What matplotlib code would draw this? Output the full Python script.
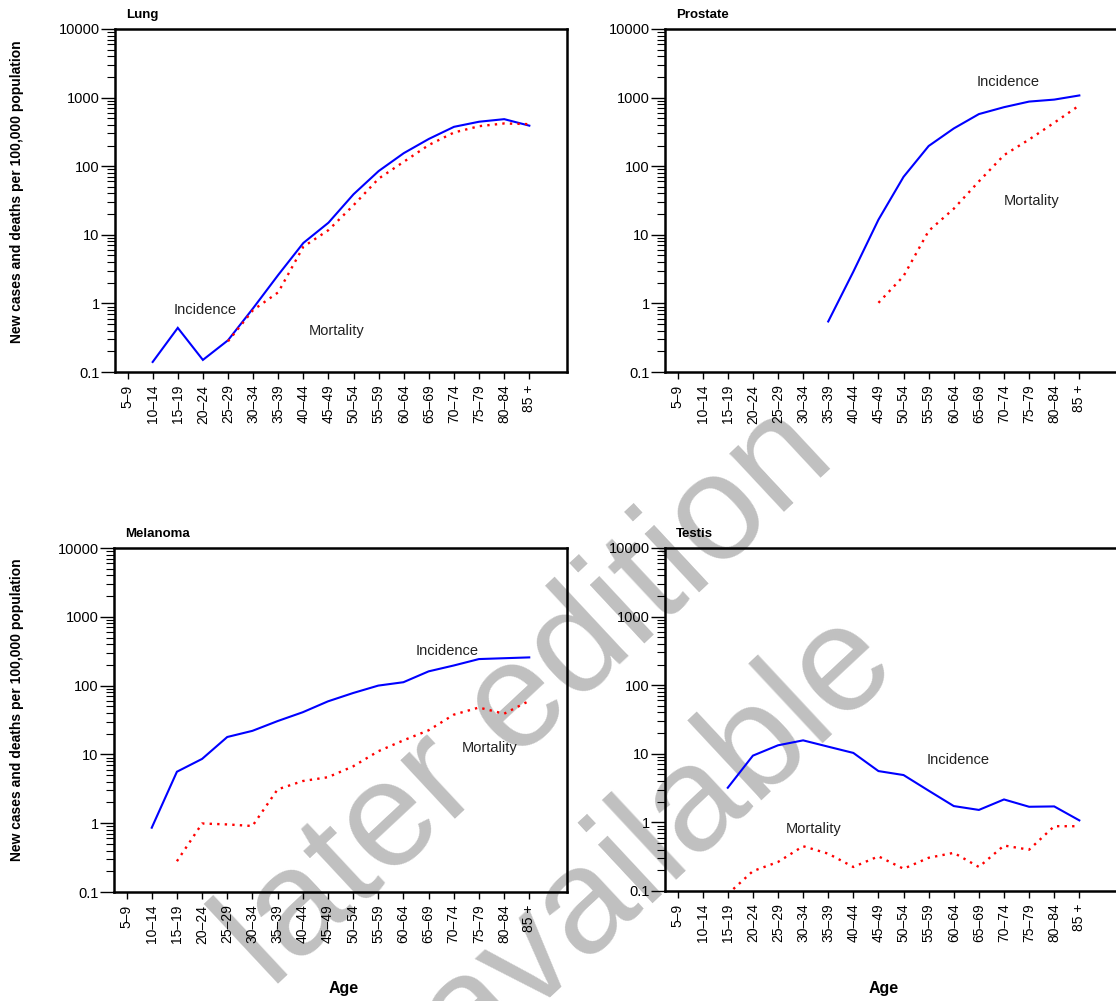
import matplotlib
matplotlib.use("Agg")
import matplotlib.pyplot as plt
from matplotlib.ticker import FixedLocator, FixedFormatter, LogLocator, NullFormatter
import numpy as np

plt.rcParams['font.family'] = ['Liberation Sans', 'DejaVu Sans']

age_groups = ["5–9", "10–14", "15–19", "20–24", "25–29", "30–34", "35–39",
              "40–44", "45–49", "50–54", "55–59", "60–64", "65–69", "70–74",
              "75–79", "80–84", "85 +"]

nan = np.nan

lung_incidence = [nan, 0.14, 0.44, 0.15, 0.29, 0.85, 2.6, 7.6, 15, 39, 85, 155,
                  250, 375, 445, 485, 390]
lung_mortality = [nan, nan, nan, nan, 0.28, 0.8, 1.45, 6.7, 11.7, 27, 66, 116,
                  204, 310, 383, 420, 410]

prostate_incidence = [nan, nan, nan, nan, nan, nan, 0.545, 2.9, 16.6, 70, 197,
                      355, 575, 725, 875, 935, 1075]
prostate_mortality = [nan, nan, nan, nan, nan, nan, nan, nan, 1.02, 2.5, 11.4,
                      24, 60, 145, 245, 430, 770]

melanoma_incidence = [nan, 0.86, 5.6, 8.6, 17.9, 22, 30.5, 41, 59, 78, 100,
                      112, 161, 196, 243, 250, 257]
melanoma_mortality = [nan, nan, 0.28, 0.99, 0.96, 0.91, 3.1, 4.1, 4.66, 6.7,
                      11.1, 16, 22.4, 37.8, 48, 39, 60]

testis_incidence = [nan, nan, 3.2, 9.4, 13.3, 15.7, 12.7, 10.3, 5.6, 4.9, 2.9,
                    1.73, 1.52, 2.16, 1.69, 1.71, 1.07]
testis_mortality = [nan, nan, 0.09, 0.195, 0.265, 0.45, 0.35, 0.224, 0.32,
                    0.211, 0.305, 0.36, 0.224, 0.46, 0.40, 0.88, 0.88]

y_ticks = [0.1, 1, 10, 100, 1000, 10000]
y_tick_labels = ["0.1", "1", "10", "100", "1000", "10000"]

# name, incidence, mortality, (incidence label x, y), (mortality label x, y)
panels = [
    ("Lung", lung_incidence, lung_mortality, (1.83, 0.8), (7.2, 0.40)),
    ("Prostate", prostate_incidence, prostate_mortality, (11.9, 1690), (13.0, 31)),
    ("Melanoma", melanoma_incidence, melanoma_mortality, (11.5, 320), (13.3, 12.4)),
    ("Testis", testis_incidence, testis_mortality, (9.9, 8.1), (4.3, 0.8)),
]

W, H = 1116, 1001
fig = plt.figure(figsize=(W / 100, H / 100), dpi=100)

# pixel boxes: left, top, right, bottom
boxes = [(115, 29, 567, 372), (665, 29, 1117, 372),
         (114, 548, 567, 892), (665, 548, 1117, 891)]

x = np.arange(len(age_groups))
for (name, inc, mort, inc_lab, mort_lab), (l, t, r, b) in zip(panels, boxes):
    ax = fig.add_axes([l / W, 1 - b / H, (r - l) / W, (b - t) / H])
    ax.set_facecolor('none')
    ax.plot(x, inc, color='#0000ff', lw=1.5, solid_joinstyle='miter')
    ax.plot(x, mort, color='#ff0000', lw=1.7, linestyle=(0, (1, 2.2)))
    ax.set_yscale('log')
    ax.set_ylim(0.1, 10000)
    ax.set_xlim(-0.5, 17.5)
    ax.yaxis.set_major_locator(FixedLocator(y_ticks))
    ax.yaxis.set_major_formatter(FixedFormatter(y_tick_labels))
    ax.yaxis.set_minor_locator(LogLocator(base=10, subs=np.arange(2, 10), numticks=20))
    ax.yaxis.set_minor_formatter(NullFormatter())
    ax.set_xticks(x)
    ax.set_xticklabels(age_groups, rotation=90, fontsize=10)
    ax.tick_params(axis='y', which='major', length=10, width=1.0, labelsize=10.5, pad=1)
    ax.tick_params(axis='y', which='minor', length=6, width=0.8)
    ax.tick_params(axis='x', length=5, width=1.0, pad=4)
    for s in ax.spines.values():
        s.set_linewidth(1.8)
    ax.text(0.024, 1.022, name, transform=ax.transAxes, fontsize=9.5,
            fontweight='bold', ha='left', va='bottom')
    ax.text(inc_lab[0], inc_lab[1], "Incidence", fontsize=10.5, ha='left',
            va='center', color='#222222')
    ax.text(mort_lab[0], mort_lab[1], "Mortality", fontsize=10.5, ha='left',
            va='center', color='#222222')

# shared axis titles
for yc in (192, 710):
    fig.text(17 / W, 1 - yc / H, "New cases and deaths per 100,000 population",
             rotation=90, ha='center', va='center', fontsize=10, fontweight='bold')
for xc in (344, 884):
    fig.text(xc / W, 1 - 989 / H, "Age", ha='center', va='center',
             fontsize=11.5, fontweight='bold')

# diagonal notice behind the panels
notice_kw = dict(rotation=43, rotation_mode='anchor', ha='left', va='baseline',
                 fontsize=108, color='#c0c0c0', zorder=-1)
fig.text(271 / W, 1 - 990 / H, "later edition", **notice_kw)
fig.text(466 / W, 1 - 1069 / H, "available", **notice_kw)

fig.savefig("out.png", dpi=100)
